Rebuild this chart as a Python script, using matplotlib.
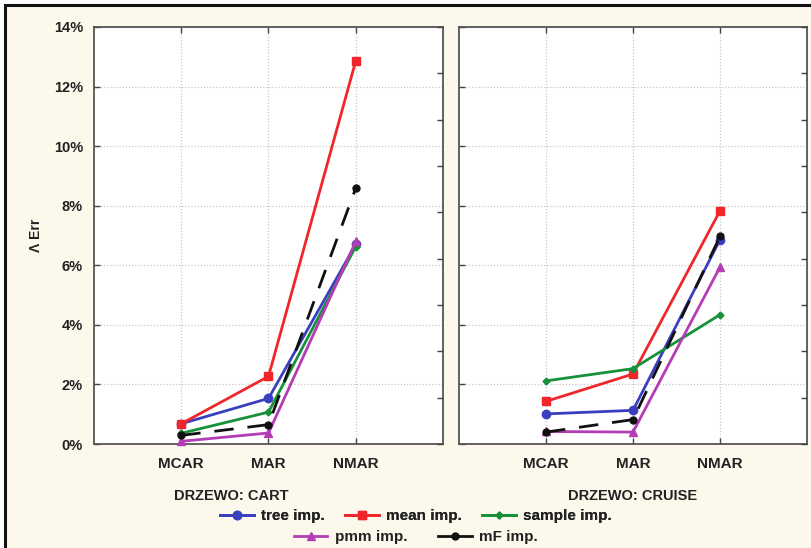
import matplotlib
matplotlib.use("Agg")
import matplotlib.pyplot as plt
from matplotlib.lines import Line2D
from matplotlib.patches import Rectangle
import numpy as np

plt.rcParams['font.family'] = ['Liberation Sans', 'DejaVu Sans']
plt.rcParams['font.weight'] = 'bold'

categories = ["MCAR", "MAR", "NMAR"]
panels = ["DRZEWO: CART", "DRZEWO: CRUISE"]

series_names = ["tree imp.", "mean imp.", "sample imp.", "pmm imp.", "mF imp."]

# values in % for each panel: CART, CRUISE
tree_imp = [[0.68, 1.53, 6.70], [1.01, 1.13, 6.86]]
mean_imp = [[0.68, 2.27, 12.86], [1.43, 2.35, 7.83]]
sample_imp = [[0.36, 1.07, 6.63], [2.12, 2.53, 4.34]]
pmm_imp = [[0.09, 0.37, 6.80], [0.42, 0.40, 5.94]]
mf_imp = [[0.29, 0.65, 8.59], [0.40, 0.82, 6.97]]

y_ticks = [0, 2, 4, 6, 8, 10, 12, 14]
y_tick_labels = ["0%", "2%", "4%", "6%", "8%", "10%", "12%", "14%"]

styles = [
    dict(color="#3a3fc0", marker="o", ms=6, ls="-", lw=2),
    dict(color="#f0262b", marker="s", ms=6, ls="-", lw=2),
    dict(color="#16913a", marker="D", ms=3.5, ls="-", lw=2),
    dict(color="#b43cb4", marker="^", ms=6, ls="-", lw=2),
    dict(color="#111111", marker="o", ms=5, ls=(0, (7, 5)), lw=2),
]
all_series = [tree_imp, mean_imp, sample_imp, pmm_imp, mf_imp]

txt = "#222222"
fs = 10.5
bg = "#fcf8ec"
W, H = 812, 548
fig = plt.figure(figsize=(W / 100, H / 100), dpi=100, facecolor=bg)

axes_px = [(94, 443), (459, 807)]
top_px, bot_px = 27, 444

x = np.arange(len(categories))
for p, (x0, x1) in enumerate(axes_px):
    ax = fig.add_axes([x0 / W, 1 - bot_px / H, (x1 - x0) / W, (bot_px - top_px) / H])
    ax.set_facecolor("white")
    for s, st in zip(all_series, styles):
        ax.plot(x, s[p], color=st["color"], marker=st["marker"], ms=st["ms"],
                ls=st["ls"], lw=st["lw"], zorder=3, clip_on=False)
    ax.set_xlim(-1, 3)
    ax.set_ylim(0, 14)
    ax.set_xticks(x)
    ax.set_xticklabels(categories, fontsize=fs + 0.5, fontweight="bold", color=txt)
    ax.set_yticks(y_ticks)
    if p == 0:
        ax.set_yticklabels(y_tick_labels, fontsize=fs, fontweight="bold", color=txt)
        ax.set_ylabel("Λ Err", fontsize=fs - 0.5, fontweight="bold", labelpad=8, color=txt)
    else:
        ax.set_yticklabels([])
    ax.tick_params(axis="both", direction="in", length=4, width=1, color="#444444",
                   top=True, pad=8)
    ax.tick_params(axis="x", pad=9)
    ax.grid(True, ls=(0, (1, 1.5)), color="#c8c8c8", lw=0.9)
    ax.set_axisbelow(True)
    for sp in ax.spines.values():
        sp.set_color("#555555")
        sp.set_linewidth(1.3)
    # secondary ticks on the right spine
    sec = ax.twinx()
    sec.set_ylim(0, 9)
    sec.set_yticks(range(10))
    sec.set_yticklabels([])
    sec.tick_params(axis="y", direction="in", length=4, width=1, color="#444444")
    for sp in sec.spines.values():
        sp.set_visible(False)
    cx = (20 + 443) / 2 if p == 0 else (x0 + x1) / 2
    fig.text(cx / W, 1 - 496 / H, panels[p], ha="center", va="center",
             fontsize=fs, fontweight="bold", color=txt)

handles = [Line2D([0], [0], color=st["color"], marker=st["marker"], ms=st["ms"],
                  ls="-", lw=st["lw"])
           for st in styles]
prop = dict(size=11, weight="bold")
leg1 = fig.legend(handles[:3], series_names[:3], loc="center", ncol=3,
                  bbox_to_anchor=(416 / W, 1 - 516 / H), frameon=False,
                  prop=prop, handlelength=2.2,
                  columnspacing=1.3, handletextpad=0.5, borderpad=0, labelcolor=txt)
leg2 = fig.legend(handles[3:], series_names[3:], loc="center", ncol=2,
                  bbox_to_anchor=(416 / W, 1 - 537 / H), frameon=False,
                  prop=prop, handlelength=2.2,
                  columnspacing=2.0, handletextpad=0.5, borderpad=0, labelcolor=txt)
fig.add_artist(leg1)

# frame around the figure
fig.patches.append(Rectangle((5 / W, -0.05), 1.1, 1 - 5 / H + 0.05,
                             transform=fig.transFigure, fill=False,
                             edgecolor="#111111", lw=2.2, zorder=10))
fig.patches.append(Rectangle((0, 1 - 4 / H), 1, 4 / H, transform=fig.transFigure,
                             facecolor="white", edgecolor="none", zorder=9))
fig.patches.append(Rectangle((0, 0), 4 / W, 1, transform=fig.transFigure,
                             facecolor="white", edgecolor="none", zorder=9))

fig.savefig("out.png", dpi=100, facecolor=bg)
